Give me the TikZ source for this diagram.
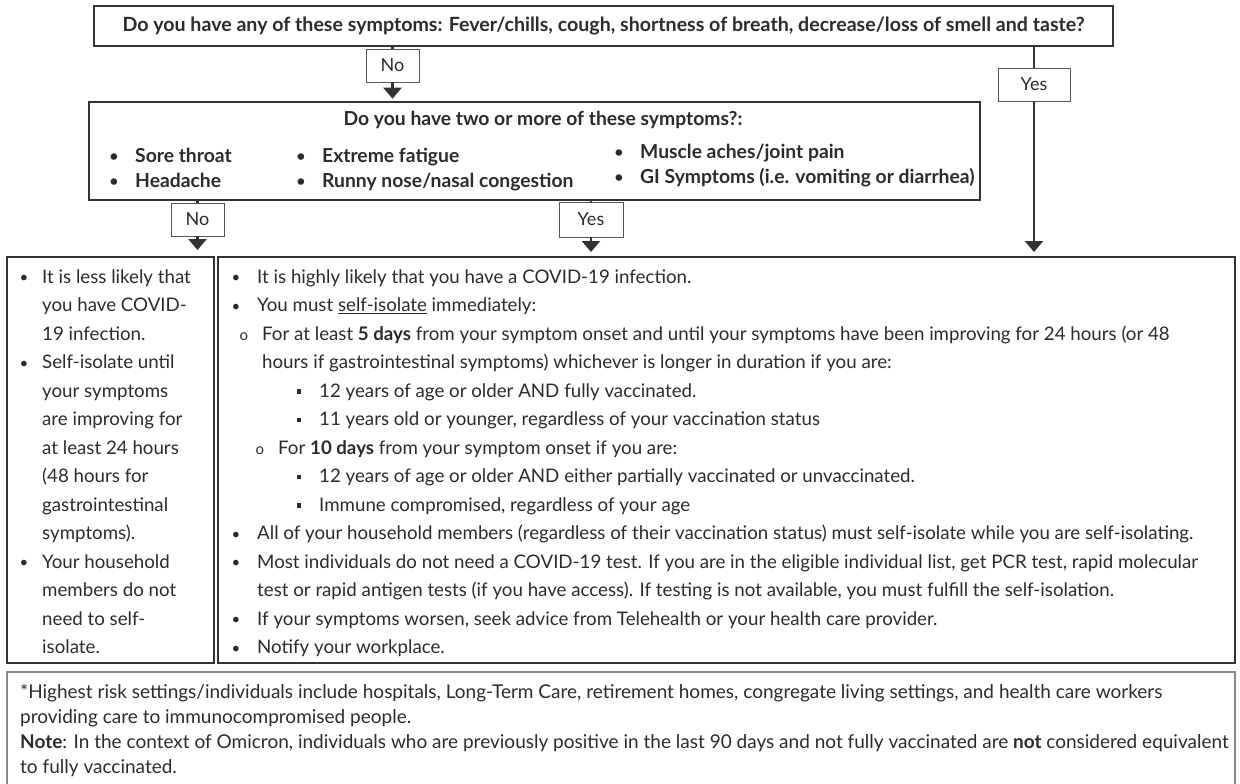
\documentclass[tikz,border=0pt]{standalone}
\usepackage{fontspec}
\setmainfont{Lato}
\usetikzlibrary{arrows.meta}
\definecolor{ink}{HTML}{2B2B2B}
\definecolor{frame}{HTML}{333333}
\definecolor{lframe}{HTML}{555555}
\definecolor{nframe}{HTML}{8A8A8A}
\newcommand{\blt}[2]{\llap{#2\hspace{#1pt}}}
\newcommand{\dotb}{\raisebox{0.5pt}{\fontsize{15}{15}\selectfont\textbullet}}
\newcommand{\circb}{\raisebox{-0.5pt}{\fontsize{15}{15}\selectfont o}}
\newcommand{\sqb}{\raisebox{3.5pt}{\rule{4.5pt}{4.5pt}}}
\begin{document}
\begin{tikzpicture}[x=1pt,y=-1pt,
  box/.style={draw=frame, line width=2.6pt, fill=white, inner sep=0pt},
  pane/.style={draw=frame, line width=2pt, inner sep=0pt},
  lbl/.style={draw=lframe, line width=0.9pt, fill=white, inner sep=0pt, text=ink, font=\fontsize{18}{20}\selectfont},
  conn/.style={draw=frame, line width=2.6pt},
  arr/.style={conn, -{Triangle[width=18pt,length=11pt]}, shorten >=4pt},
  txt/.style={anchor=base west, inner sep=0pt, text=ink, font=\fontsize{18.7}{20}\selectfont},
  btxt/.style={anchor=base west, inner sep=0pt, text=ink, font=\fontsize{19.3}{20}\selectfont\bfseries},
  ntxt/.style={anchor=base west, inner sep=0pt, text=ink, font=\fontsize{19}{20}\selectfont},
]
\useasboundingbox (0,0) rectangle (1240,784);

% main boxes
\node[box, minimum width=1019pt, minimum height=40pt, font=\fontsize{19.6}{20}\selectfont\bfseries, text=ink] (top) at (603.5,26) {Do you have any of these symptoms: Fever/chills, cough, shortness of breath, decrease/loss of smell and taste?};
\node[box, minimum width=891pt, minimum height=98pt] (second) at (534.5,151) {};
\node[pane, minimum width=207pt, minimum height=406pt] (left) at (110.5,460) {};
\node[pane, minimum width=1017pt, minimum height=406pt] (right) at (726.5,460) {};

% labels
\node[lbl, minimum width=53pt, minimum height=33pt] (no1) at (392.5,65.5) {No};
\node[lbl, minimum width=72pt, minimum height=33pt] (yes1) at (1034,84.5) {Yes};
\node[lbl, minimum width=53pt, minimum height=33pt] (no2) at (197.5,219.5) {No};
\node[lbl, minimum width=64pt, minimum height=35pt] (yes2) at (591,219.5) {Yes};

% connectors
\draw[conn] (top.south -| no1.north) -- (no1.north);
\draw[arr, shorten >=2pt] (no1.south) -- (no1.south |- second.north);
\draw[conn] (top.south -| yes1.north) -- (yes1.north);
\draw[arr] (yes1.south) -- (yes1.south |- right.north);
\draw[conn] (second.south -| no2.north) -- (no2.north);
\draw[arr, shorten >=6pt] (no2.south) -- (no2.south |- left.north);
\draw[conn] (second.south -| yes2.north) -- (yes2.north);
\draw[arr] (yes2.south) -- (yes2.south |- right.north);

% second box contents
\node[btxt, anchor=base] (q2) at (543,125) {Do you have two or more of these symptoms?:};
\node[btxt] (s1) at (135,162) {\blt{17}{\dotb}Sore throat};
\node[btxt] (s2) at (135,187) {\blt{17}{\dotb}Headache};
\node[btxt] (s3) at (322,162) {\blt{17}{\dotb}Extreme fatigue};
\node[btxt] (s4) at (322,187) {\blt{17}{\dotb}Runny nose/nasal congestion};
\node[btxt] (s5) at (640,158) {\blt{17}{\dotb}Muscle aches/joint pain};
\node[btxt] (s6) at (640,183) {\blt{17}{\dotb}GI Symptoms (i.e. vomiting or diarrhea)};

% left pane
\node[txt] (l1) at (42,283) {\blt{14}{\dotb}It is less likely that};
\node[txt] (l2) at (42,311.5) {you have COVID-};
\node[txt] (l3) at (42,340) {19 infection.};
\node[txt] (l4) at (42,368.5) {\blt{14}{\dotb}Self-isolate until};
\node[txt] (l5) at (42,397) {your symptoms};
\node[txt] (l6) at (42,425.5) {are improving for};
\node[txt] (l7) at (42,454) {at least 24 hours};
\node[txt] (l8) at (42,482.5) {(48 hours for};
\node[txt] (l9) at (42,511) {gastrointestinal};
\node[txt] (l10) at (42,539.5) {symptoms).};
\node[txt] (l11) at (42,568) {\blt{14}{\dotb}Your household};
\node[txt] (l12) at (42,596.5) {members do not};
\node[txt] (l13) at (42,625) {need to self-};
\node[txt] (l14) at (42,653.5) {isolate.};

% right pane
\node[txt] (r1) at (257,283) {\blt{17}{\dotb}It is highly likely that you have a COVID-19 infection.};
\node[txt] (r2) at (257,311.5) {\blt{17}{\dotb}You must \underline{self-isolate} immediately:};
\node[txt] (r3) at (262,340) {\blt{14}{\circb}For at least \textbf{5 days} from your symptom onset and until your symptoms have been improving for 24 hours (or 48};
\node[txt] (r4) at (262,368.5) {hours if gastrointestinal symptoms) whichever is longer in duration if you are:};
\node[txt] (r5) at (319,397) {\blt{18}{\sqb}12 years of age or older AND fully vaccinated.};
\node[txt] (r6) at (319,425.5) {\blt{18}{\sqb}11 years old or younger, regardless of your vaccination status};
\node[txt] (r7) at (278,454) {\blt{14}{\circb}For \textbf{10 days} from your symptom onset if you are:};
\node[txt] (r8) at (319,482.5) {\blt{18}{\sqb}12 years of age or older AND either partially vaccinated or unvaccinated.};
\node[txt] (r9) at (319,511) {\blt{18}{\sqb}Immune compromised, regardless of your age};
\node[txt] (r10) at (257,539.5) {\blt{17}{\dotb}All of your household members (regardless of their vaccination status) must self-isolate while you are self-isolating.};
\node[txt] (r11) at (257,568) {\blt{17}{\dotb}Most individuals do not need a COVID-19 test. If you are in the eligible individual list, get PCR test, rapid molecular};
\node[txt] (r12) at (257,596.5) {test or rapid antigen tests (if you have access). If testing is not available, you must fulfill the self-isolation.};
\node[txt] (r13) at (257,625) {\blt{17}{\dotb}If your symptoms worsen, seek advice from Telehealth or your health care provider.};
\node[txt] (r14) at (257,653.5) {\blt{17}{\dotb}Notify your workplace.};

% bottom note
\draw[draw=nframe, line width=1.2pt] (7,784) -- (7,672) -- (1235,672) -- (1235,784);
\node[ntxt] (n1) at (20,698) {*Highest risk settings/individuals include hospitals, Long-Term Care, retirement homes, congregate living settings, and health care workers};
\node[ntxt] (n2) at (20,723) {providing care to immunocompromised people.};
\node[ntxt] (n3) at (20,748) {\textbf{Note}: In the context of Omicron, individuals who are previously positive in the last 90 days and not fully vaccinated are \textbf{not} considered equivalent};
\node[ntxt] (n4) at (20,773) {to fully vaccinated.};
\end{tikzpicture}
\end{document}
